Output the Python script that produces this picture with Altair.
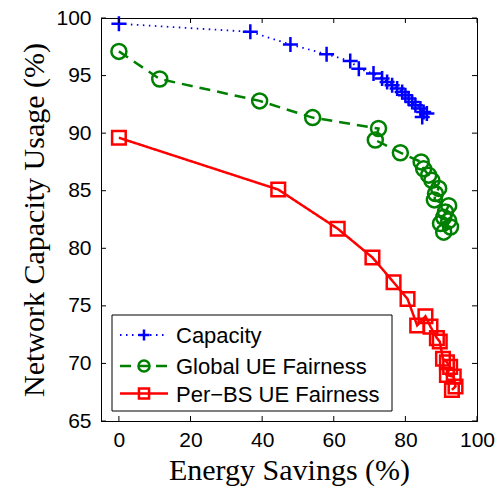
import altair as alt
import pandas as pd

# Capacity-maximising allocation
cap_x = [0, 36.7, 47.9, 58.0, 64.6, 67.0, 71.1, 73.5, 74.9, 76.3, 77.7, 79.1,
         80.0, 80.9, 81.9, 82.8, 84.2, 85.1, 86.0, 84.7]
cap_y = [99.5, 98.8, 97.7, 96.85, 96.27, 95.6, 95.17, 94.74, 94.44, 94.16, 93.87,
         93.58, 93.29, 93.0, 92.71, 92.42, 92.14, 91.84, 91.7, 91.41]

# Global UE fairness
glob_x = [0, 11.4, 39.3, 54.1, 72.5, 71.6, 78.6, 84.4, 85.1, 86.5, 87.4, 89.3,
          88.4, 88.1, 92.1, 91.2, 90.7, 92.1, 89.8, 92.6, 90.7]
glob_y = [97.1, 94.7, 92.8, 91.35, 90.4, 89.4, 88.3, 87.5, 86.9, 86.35, 85.9,
          85.2, 84.75, 84.2, 83.7, 83.15, 82.7, 82.4, 82.15, 81.85, 81.4]

# Per-BS UE fairness
bs_x = [0, 44.5, 61.1, 70.8, 76.7, 80.6, 83.3, 85.6, 87.0, 88.8, 89.6, 90.5,
        91.6, 92.5, 91.6, 93.5, 94.0, 93.0]
bs_y = [89.6, 85.1, 81.7, 79.2, 77.05, 75.6, 73.3, 74.1, 73.2, 72.2, 71.9, 70.4,
        70.1, 69.7, 69.0, 68.85, 68.0, 67.7]

legend_labels = ["Capacity", "Global UE Fairness", "Per\u2212BS UE Fairness"]
x_ticks = [0, 20, 40, 60, 80, 100]
y_ticks = [65, 70, 75, 80, 85, 90, 95, 100]

W, H = 376, 403
PLUS = "M-1,0L1,0M0,-1L0,1"
SANS = "Liberation Sans"
SERIF = "Liberation Serif"

xs = alt.Scale(domain=[-5, 100], nice=False, zero=False)
ys = alt.Scale(domain=[65, 100], nice=False, zero=False)

series = [
    dict(x=cap_x, y=cap_y, color="#0000ff", dash=[1.5, 4.5], lw=1.8, shape=PLUS, size=225),
    dict(x=glob_x, y=glob_y, color="#008000", dash=[11, 7], lw=2.5, shape="circle", size=225),
    dict(x=bs_x, y=bs_y, color="#ff0000", dash=[1, 0], lw=2.5, shape="square", size=185),
]

layers = []
for i, s in enumerate(series):
    df = pd.DataFrame({"x": s["x"], "y": s["y"], "i": list(range(len(s["x"])))})
    base = alt.Chart(df)
    enc = dict(
        x=alt.X("x:Q", scale=xs,
                axis=alt.Axis(values=x_ticks, title="Energy Savings (%)")),
        y=alt.Y("y:Q", scale=ys,
                axis=alt.Axis(values=y_ticks, title="Network Capacity Usage (%)")),
    )
    layers.append(base.mark_line(color=s["color"], strokeWidth=s["lw"],
                                 strokeDash=s["dash"]).encode(order="i:Q", **enc))
    layers.append(base.mark_point(shape=s["shape"], size=s["size"], filled=False,
                                  color=s["color"], strokeWidth=2.5, opacity=1).encode(**enc))

# inward tick marks on all four sides of the box
xt = alt.Chart(pd.DataFrame({"v": x_ticks}))
yt = alt.Chart(pd.DataFrame({"v": y_ticks}))
tick_style = dict(color="black", strokeWidth=1)
layers += [
    xt.mark_rule(**tick_style).encode(x=alt.X("v:Q", scale=xs), y=alt.value(H), y2=alt.value(H - 5)),
    xt.mark_rule(**tick_style).encode(x=alt.X("v:Q", scale=xs), y=alt.value(0), y2=alt.value(5)),
    yt.mark_rule(**tick_style).encode(y=alt.Y("v:Q", scale=ys), x=alt.value(0), x2=alt.value(5)),
    yt.mark_rule(**tick_style).encode(y=alt.Y("v:Q", scale=ys), x=alt.value(W), x2=alt.value(W - 5)),
]

# legend box
one = alt.Chart(pd.DataFrame({"a": [0]}))
layers.append(one.mark_rect(fill="white", stroke="black", strokeWidth=1).encode(
    x=alt.value(11), x2=alt.value(291), y=alt.value(297), y2=alt.value(393)))
rows = [317, 348, 375.5]
for s, label, ry in zip(series, legend_labels, rows):
    layers.append(one.mark_rule(color=s["color"], strokeWidth=s["lw"], strokeDash=s["dash"]).encode(
        x=alt.value(19), x2=alt.value(67), y=alt.value(ry)))
    layers.append(one.mark_point(shape=s["shape"], size=s["size"] * 0.55, filled=False,
                                 color=s["color"], strokeWidth=2.5, opacity=1).encode(
        x=alt.value(43), y=alt.value(ry)))
    layers.append(one.mark_text(text=label, align="left", baseline="middle", font=SANS,
                                fontSize=22, color="black").encode(
        x=alt.value(75), y=alt.value(ry + 1)))

chart = alt.layer(*layers).properties(
    width=W, height=H,
    padding={"left": 101, "top": 18, "right": 21, "bottom": 66},
    autosize=alt.AutoSizeParams(type="none"),
    background="white",
).configure_view(stroke="black", strokeWidth=1).configure_axis(
    grid=False, domainColor="black", domainWidth=1, ticks=False, labelFlush=False,
    labelFont=SANS, labelFontSize=21, labelColor="black",
    titleFont=SERIF, titleFontSize=30, titleColor="black", titleFontWeight="normal",
).configure_axisX(labelPadding=8, titlePadding=5).configure_axisY(labelPadding=10, titlePadding=6)

chart.save("out.html", embed_options={"renderer": "svg", "actions": False})
